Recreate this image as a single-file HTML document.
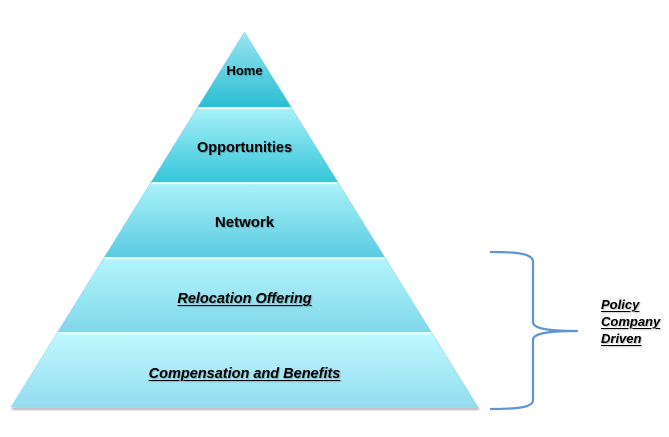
<!DOCTYPE html>
<html>
<head>
<meta charset="utf-8">
<style>
html,body{margin:0;padding:0;background:#fff;}
#wrap{position:relative;width:669px;height:437px;overflow:hidden;background:#fff;}
svg{position:absolute;left:0;top:0;}
.lbl{position:absolute;left:0;width:489px;text-align:center;font-family:"Liberation Sans",sans-serif;font-weight:bold;color:#000;white-space:nowrap;text-shadow:1px 1px 1px rgba(0,0,0,0.25);}
.it{font-style:italic;text-decoration:underline;text-decoration-thickness:1px;text-underline-offset:2px;}
.side{position:absolute;left:601px;font-family:"Liberation Sans",sans-serif;font-weight:bold;font-style:italic;text-decoration:underline;text-decoration-thickness:1px;text-underline-offset:2px;font-size:13px;color:#000;white-space:nowrap;line-height:17px;text-shadow:1px 1px 1px rgba(0,0,0,0.25);}
</style>
</head>
<body>
<div id="wrap">
<svg width="669" height="437" viewBox="0 0 669 437" xmlns="http://www.w3.org/2000/svg">
<defs>
<linearGradient id="g1" x1="0" y1="0" x2="0" y2="1">
<stop offset="0" stop-color="#9ae6f1"/><stop offset="1" stop-color="#2abdd3"/>
</linearGradient>
<linearGradient id="g2" x1="0" y1="0" x2="0" y2="1">
<stop offset="0" stop-color="#aaf2fa"/><stop offset="1" stop-color="#35c5d9"/>
</linearGradient>
<linearGradient id="g3" x1="0" y1="0" x2="0" y2="1">
<stop offset="0" stop-color="#acf3fa"/><stop offset="1" stop-color="#5acbe0"/>
</linearGradient>
<linearGradient id="g4" x1="0" y1="0" x2="0" y2="1">
<stop offset="0" stop-color="#b4f6fc"/><stop offset="1" stop-color="#80d8ea"/>
</linearGradient>
<linearGradient id="g5" x1="0" y1="0" x2="0" y2="1">
<stop offset="0" stop-color="#c0faff"/><stop offset="1" stop-color="#93dcef"/>
</linearGradient>
<filter id="sh" x="-5%" y="-5%" width="110%" height="130%">
<feGaussianBlur stdDeviation="1.2"/>
</filter>
</defs>
<polygon points="12,407 479,407 479,410 12,410" fill="#9a9a9a" filter="url(#sh)" opacity="0.8"/>
<polygon points="244.5,32 291.2,107 197.8,107" fill="url(#g1)"/>
<polygon points="197.8,107 291.2,107 337.9,182 151.1,182" fill="url(#g2)"/>
<polygon points="151.1,182 337.9,182 384.6,257 104.4,257" fill="url(#g3)"/>
<polygon points="104.4,257 384.6,257 431.3,332 57.7,332" fill="url(#g4)"/>
<polygon points="57.7,332 431.3,332 478,407 11,407" fill="url(#g5)"/>
<line x1="198.5" y1="108.3" x2="290.5" y2="108.3" stroke="#ffffff" stroke-width="1.6" opacity="0.9"/>
<line x1="152" y1="183.3" x2="337" y2="183.3" stroke="#ffffff" stroke-width="1.6" opacity="0.9"/>
<line x1="105.3" y1="258.3" x2="383.7" y2="258.3" stroke="#ffffff" stroke-width="1.6" opacity="0.9"/>
<line x1="58.6" y1="333.3" x2="430.4" y2="333.3" stroke="#ffffff" stroke-width="1.6" opacity="0.9"/>
<polyline points="11,407 244.5,32 478,407" fill="none" stroke="#7fcfe0" stroke-width="0.6" opacity="0.7"/>
<path d="M490,252 C520,252 533,254 533,262 L533,322 C533,328 545,331 577,331 C545,331 533,334 533,340 L533,400 C533,407 520,409 490,409" fill="none" stroke="#5f95d2" stroke-width="2.2" stroke-linejoin="round"/>
</svg>
<div class="lbl" style="top:63px;font-size:13px;line-height:16px;">Home</div>
<div class="lbl" style="top:139px;font-size:14.5px;line-height:18px;">Opportunities</div>
<div class="lbl" style="top:214px;font-size:15px;line-height:18px;">Network</div>
<div class="lbl it" style="top:290px;font-size:14.5px;line-height:18px;">Relocation Offering</div>
<div class="lbl it" style="top:365px;font-size:14.5px;line-height:18px;">Compensation and Benefits</div>
<div class="side" style="top:296px;">Policy</div>
<div class="side" style="top:313px;">Company</div>
<div class="side" style="top:330px;">Driven</div>
</div>
</body>
</html>
